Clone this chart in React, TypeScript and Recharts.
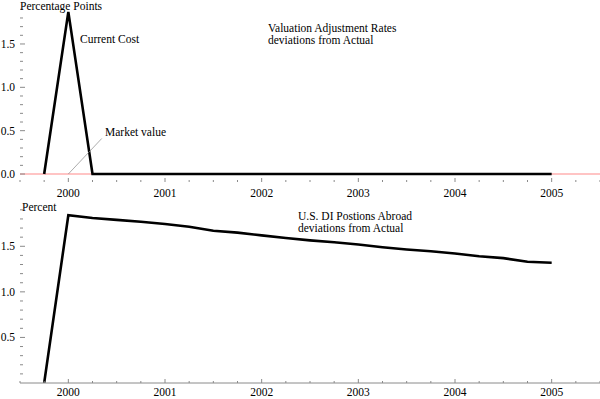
import { LineChart, Line, XAxis, YAxis, ReferenceLine } from "recharts";

const FONT = "'Liberation Serif', 'Times New Roman', serif";

// quarterly observation dates
const periods = [
  1999.75, 2000, 2000.25, 2000.5, 2000.75, 2001, 2001.25, 2001.5, 2001.75, 2002, 2002.25,
  2002.5, 2002.75, 2003, 2003.25, 2003.5, 2003.75, 2004, 2004.25, 2004.5, 2004.75, 2005,
];

// Valuation adjustment rates, deviations from actual (percentage points)
const currentCost = [0, 1.87, 0, 0, 0, 0, 0, 0, 0, 0, 0, 0, 0, 0, 0, 0, 0, 0, 0, 0, 0, 0];
const marketPeriods = [1999.5, 2005.5];
const marketValue = [0, 0];

// U.S. DI positions abroad, deviations from actual (percent)
const diAbroad = [
  0, 1.84, 1.81, 1.79, 1.77, 1.745, 1.715, 1.67, 1.65, 1.62, 1.59, 1.565, 1.545, 1.52, 1.49,
  1.465, 1.445, 1.42, 1.39, 1.37, 1.33, 1.32,
];

const xTicks = [
  1999.5, 1999.75, 2000, 2000.25, 2000.5, 2000.75, 2001, 2001.25, 2001.5, 2001.75, 2002,
  2002.25, 2002.5, 2002.75, 2003, 2003.25, 2003.5, 2003.75, 2004, 2004.25, 2004.5, 2004.75,
  2005, 2005.25, 2005.5,
];
const yearLabels = [2000, 2001, 2002, 2003, 2004, 2005];
const topYTicks = [0, 0.1, 0.2, 0.3, 0.4, 0.5, 0.6, 0.7, 0.8, 0.9, 1, 1.1, 1.2, 1.3, 1.4, 1.5, 1.6, 1.7, 1.8, 1.9];
const bottomYTicks = [0.1, 0.2, 0.3, 0.4, 0.5, 0.6, 0.7, 0.8, 0.9, 1, 1.1, 1.2, 1.3, 1.4, 1.5, 1.6, 1.7, 1.8, 1.9];
const yLabels = [0, 0.5, 1, 1.5];

const toSeries = (xs: number[], ys: number[]) => xs.map((t, i) => ({ t, v: ys[i] }));

const TICK_COLOR = "#8a8a8a";
const FS = 11.5;

function XTick(props: any) {
  const { x, y, payload, labelDy } = props;
  const major = yearLabels.includes(payload.value);
  return (
    <g>
      <line x1={x} x2={x} y1={y} y2={y - (major ? 4 : 2)} stroke={TICK_COLOR} />
      {major && (
        <text
          x={x}
          y={y + labelDy}
          textAnchor="middle"
          fill="#000"
          style={{ fontFamily: FONT, fontSize: FS }}
        >
          {payload.value}
        </text>
      )}
    </g>
  );
}

function YTick(props: any) {
  const { x, y, payload } = props;
  const major = yLabels.some((l) => Math.abs(l - payload.value) < 1e-6);
  return (
    <g>
      <line x1={x} x2={x + (major ? 5 : 3)} y1={y} y2={y} stroke={TICK_COLOR} />
      {major && (
        <text
          x={x - 5}
          y={y + 4}
          textAnchor="end"
          fill="#000"
          style={{ fontFamily: FONT, fontSize: FS }}
        >
          {payload.value.toFixed(1)}
        </text>
      )}
    </g>
  );
}

const txt = { fill: "#000", style: { fontFamily: FONT, fontSize: FS } };

export default function App() {
  return (
    <div style={{ position: "absolute", left: 0, top: 0, width: 600, height: 399, background: "#fff" }}>
      <div style={{ position: "absolute", left: 0, top: 0 }}>
        <LineChart width={600} height={200} margin={{ top: 8, right: 0, left: 0, bottom: 0 }}>
          <XAxis
            type="number"
            dataKey="t"
            domain={[1999.5, 2005.5]}
            ticks={xTicks}
            interval={0}
            height={18}
            tickSize={0}
            tickMargin={0}
            tickLine={false}
            tick={<XTick labelDy={15} />}
            axisLine={false}
            allowDataOverflow
          />
          <YAxis
            type="number"
            domain={[-0.092, 1.915]}
            ticks={topYTicks}
            interval={0}
            width={20}
            tickSize={0}
            tickMargin={0}
            tickLine={false}
            tick={<YTick />}
            axisLine={false}
            allowDataOverflow
          />
          <Line
            data={toSeries(marketPeriods, marketValue)}
            dataKey="v"
            stroke="#ff8a8a"
            strokeWidth={1.2}
            dot={false}
            isAnimationActive={false}
          />
          <Line
            data={toSeries(periods, currentCost)}
            dataKey="v"
            stroke="#000"
            strokeWidth={2.6}
            dot={false}
            isAnimationActive={false}
          />
          <ReferenceLine
            segment={[{ x: 2000.346, y: 0.41 }, { x: 2000, y: 0 }]}
            stroke="#888"
            strokeWidth={0.7}
          />
        </LineChart>
      </div>
      <div style={{ position: "absolute", left: 0, top: 200 }}>
        <LineChart width={600} height={199} margin={{ top: 8, right: 0, left: 0, bottom: 0 }}>
          <XAxis
            type="number"
            dataKey="t"
            domain={[1999.5, 2005.5]}
            ticks={xTicks}
            interval={0}
            height={16}
            tickSize={0}
            tickMargin={0}
            tickLine={false}
            tick={<XTick labelDy={13} />}
            axisLine={{ stroke: TICK_COLOR }}
            allowDataOverflow
          />
          <YAxis
            type="number"
            domain={[0, 1.92]}
            ticks={bottomYTicks}
            interval={0}
            width={20}
            tickSize={0}
            tickMargin={0}
            tickLine={false}
            tick={<YTick />}
            axisLine={false}
            allowDataOverflow
          />
          <Line
            data={toSeries(periods, diAbroad)}
            dataKey="v"
            stroke="#000"
            strokeWidth={2.6}
            dot={false}
            isAnimationActive={false}
          />
        </LineChart>
      </div>
      <svg
        width={600}
        height={399}
        style={{ position: "absolute", left: 0, top: 0, pointerEvents: "none" }}
      >
        <text x={20} y={10} {...txt}>Percentage Points</text>
        <text x={80} y={43} {...txt}>Current Cost</text>
        <text x={105} y={136} {...txt}>Market value</text>
        <text x={268} y={32} {...txt}>Valuation Adjustment Rates</text>
        <text x={268} y={44} {...txt}>deviations from Actual</text>
        <text x={22} y={211} {...txt}>Percent</text>
        <text x={298} y={220} {...txt}>U.S. DI Postions Abroad</text>
        <text x={298} y={232} {...txt}>deviations from Actual</text>
      </svg>
    </div>
  );
}
